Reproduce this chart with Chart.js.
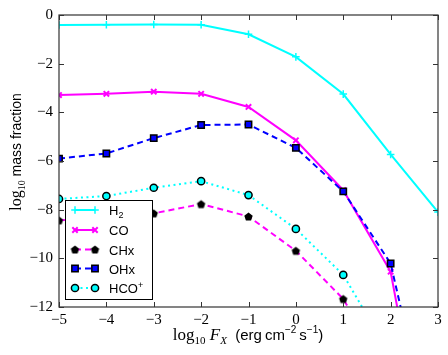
<!DOCTYPE html>
<html>
<head>
<meta charset="utf-8">
<script src="https://cdn.jsdelivr.net/npm/chart.js@4.4.1/dist/chart.umd.min.js"></script>
<style>
  html, body { margin: 0; padding: 0; background: #fff; }
  #wrap { width: 448px; height: 355px; position: relative; }
</style>
</head>
<body>
<div id="wrap"><canvas id="chart"></canvas></div>
<script>
const fluxLog = [-5, -4, -3, -2, -1, 0, 1, 2, 3];
const h2Values = [-0.41, -0.4, -0.39, -0.4, -0.79, -1.72, -3.25, -5.73, -8.1];
const coValues = [-3.29, -3.24, -3.15, -3.24, -3.78, -5.15, -7.2, -10.55, -21];
const chxValues = [-8.44, -8.3, -8.15, -7.77, -8.28, -9.69, -11.67, -15, null];
const ohxValues = [-5.9, -5.69, -5.06, -4.52, -4.5, -5.46, -7.25, -10.21, -18.7];
const hcoValues = [-7.56, -7.44, -7.1, -6.83, -7.4, -8.79, -10.68, -14, null];
const xTicks = [-5, -4, -3, -2, -1, 0, 1, 2, 3];
const yTicks = [-12, -10, -8, -6, -4, -2, 0];

const serif = '"Liberation Serif", "DejaVu Serif", serif';
const sans = '"Liberation Sans", "DejaVu Sans", sans-serif';

function toPoints(values) {
  return fluxLog.map((x, i) => ({ x, y: values[i] }));
}

function pentagonMarker() {
  const c = document.createElement("canvas");
  c.width = 11;
  c.height = 11;
  const ctx = c.getContext("2d");
  ctx.fillStyle = "#000";
  ctx.beginPath();
  for (let i = 0; i < 5; i++) {
    const a = -Math.PI / 2 + (i * 2 * Math.PI) / 5;
    const px = 5.5 + 4.4 * Math.cos(a);
    const py = 6 + 4.4 * Math.sin(a);
    if (i === 0) ctx.moveTo(px, py);
    else ctx.lineTo(px, py);
  }
  ctx.closePath();
  ctx.fill();
  return c;
}

const minus = (v) => String(v).replace("-", "\u2212");

const datasets = [
  {
    label: "H2",
    data: toPoints(h2Values),
    borderColor: "#00ffff",
    borderWidth: 2,
    pointStyle: "cross",
    pointRadius: 3.8,
    pointBorderColor: "#00ffff",
    pointBackgroundColor: "#00ffff",
    pointBorderWidth: 1.5,
    order: 5,
  },
  {
    label: "CO",
    data: toPoints(coValues),
    borderColor: "#ff00ff",
    borderWidth: 2,
    pointStyle: "crossRot",
    pointRadius: 3.8,
    pointBorderColor: "#ff00ff",
    pointBackgroundColor: "#ff00ff",
    pointBorderWidth: 2,
    order: 4,
  },
  {
    label: "CHx",
    data: toPoints(chxValues),
    borderColor: "#ff00ff",
    borderWidth: 2,
    borderDash: [6, 4],
    pointStyle: pentagonMarker(),
    pointRadius: 5,
    order: 3,
  },
  {
    label: "OHx",
    data: toPoints(ohxValues),
    borderColor: "#0000ff",
    borderWidth: 2,
    borderDash: [6, 4],
    pointStyle: "rect",
    pointRadius: 4.5,
    pointBorderColor: "#000",
    pointBackgroundColor: "#0000ff",
    pointBorderWidth: 1.5,
    order: 2,
  },
  {
    label: "HCO+",
    data: toPoints(hcoValues),
    borderColor: "#00ffff",
    borderWidth: 2,
    borderDash: [2, 3.5],
    pointStyle: "circle",
    pointRadius: 3.6,
    pointBorderColor: "#000",
    pointBackgroundColor: "#00ffff",
    pointBorderWidth: 1.5,
    order: 1,
  },
];

const legendNames = [
  [["H", ""], ["2", "sub"]],
  [["CO", ""]],
  [["CHx", ""]],
  [["OHx", ""]],
  [["HCO", ""], ["+", "sup"]],
];

function drawParts(ctx, parts, cx, baseline, startX) {
  let total = 0;
  parts.forEach(([t, f]) => { ctx.font = f; total += ctx.measureText(t).width; });
  let x = startX !== undefined ? startX : cx - total / 2;
  ctx.textAlign = "left";
  parts.forEach(([t, f, dy]) => {
    ctx.font = f;
    ctx.fillText(t, x, baseline + dy);
    x += ctx.measureText(t).width;
  });
}

// frame, inward ticks, axis titles and the legend box
const decorations = {
  id: "decorations",
  afterDraw(chart) {
    const { ctx, chartArea: a, scales } = chart;
    ctx.save();
    ctx.strokeStyle = "#333";
    ctx.lineWidth = 1.2;
    ctx.strokeRect(a.left, a.top, a.right - a.left, a.bottom - a.top);
    ctx.lineWidth = 1;
    ctx.beginPath();
    xTicks.forEach((t) => {
      const px = Math.round(scales.x.getPixelForValue(t)) + 0.5;
      ctx.moveTo(px, a.bottom); ctx.lineTo(px, a.bottom - 5);
      ctx.moveTo(px, a.top); ctx.lineTo(px, a.top + 5);
    });
    yTicks.forEach((t) => {
      const py = Math.round(scales.y.getPixelForValue(t)) + 0.5;
      ctx.moveTo(a.left, py); ctx.lineTo(a.left + 5, py);
      ctx.moveTo(a.right, py); ctx.lineTo(a.right - 5, py);
    });
    ctx.stroke();

    // x title
    ctx.fillStyle = "#000";
    ctx.textBaseline = "alphabetic";
    drawParts(ctx, [
      ["log", `17px ${serif}`, 0],
      ["10", `11px ${serif}`, 4],
      [" ", `17px ${serif}`, 0],
      ["F", `italic 17px ${serif}`, 0],
      ["X", `italic 11px ${serif}`, 4],
      ["  (erg", `15px ${sans}`, 0],
      ["\u2009cm", `15px ${sans}`, 0],
      ["\u22122", `10px ${sans}`, -7],
      ["\u2009s", `15px ${sans}`, 0],
      ["\u22121", `10px ${sans}`, -7],
      [")", `15px ${sans}`, 0],
    ], 248, 340);

    // y title
    ctx.save();
    ctx.translate(21, 152);
    ctx.rotate(-Math.PI / 2);
    drawParts(ctx, [
      ["log", `16px ${serif}`, 0],
      ["10", `10px ${serif}`, 4],
      [" mass fraction", `14px ${sans}`, 0],
    ], 0, 0);
    ctx.restore();

    // legend
    const box = { left: 65, top: 200, right: 152, bottom: 299 };
    ctx.fillStyle = "#fff";
    ctx.fillRect(box.left, box.top, box.right - box.left, box.bottom - box.top);
    ctx.strokeStyle = "#000";
    ctx.lineWidth = 1;
    ctx.strokeRect(box.left + 0.5, box.top + 0.5, box.right - box.left, box.bottom - box.top);
    const rows = [210, 230, 249.5, 268.5, 288];
    chart.data.datasets.forEach((ds, i) => {
      const y = rows[i];
      ctx.save();
      ctx.strokeStyle = ds.borderColor;
      ctx.lineWidth = ds.borderWidth;
      ctx.setLineDash(ds.borderDash || []);
      ctx.beginPath();
      ctx.moveTo(75, y);
      ctx.lineTo(95, y);
      ctx.stroke();
      ctx.restore();
      const opts = chart.getDatasetMeta(i).data[0].options;
      [75, 95].forEach((px) => {
        ctx.save();
        ctx.setLineDash([]);
        ctx.fillStyle = opts.backgroundColor;
        ctx.strokeStyle = opts.borderColor;
        ctx.lineWidth = opts.borderWidth;
        Chart.helpers.drawPoint(ctx, {
          pointStyle: opts.pointStyle,
          radius: opts.radius,
          borderWidth: opts.borderWidth,
          rotation: 0,
        }, px, y);
        ctx.restore();
      });
      ctx.fillStyle = "#000";
      const parts = legendNames[i].map(([text, kind]) => {
        if (kind === "sub") return [text, `9px ${sans}`, 3];
        if (kind === "sup") return [text, `9px ${sans}`, -5];
        return [text, `13px ${sans}`, 0];
      });
      drawParts(ctx, parts, null, y + 5, 109);
    });
    ctx.restore();
  },
};

new Chart(document.getElementById("chart"), {
  type: "line",
  data: { datasets },
  options: {
    responsive: true,
    maintainAspectRatio: false,
    animation: false,
    layout: { padding: { top: 14, right: 10, left: 0, bottom: 0 } },
    plugins: {
      legend: { display: false },
      tooltip: { enabled: false },
    },
    scales: {
      x: {
        type: "linear",
        min: -5,
        max: 3,
        afterFit: (scale) => { scale.height = 48; },
        afterBuildTicks: (scale) => { scale.ticks = xTicks.map((v) => ({ value: v })); },
        grid: { display: false, drawTicks: false },
        border: { display: false },
        ticks: {
          color: "#000",
          font: { family: serif, size: 15 },
          padding: 4,
          callback: (v) => minus(v),
        },
      },
      y: {
        type: "linear",
        min: -12,
        max: 0,
        afterFit: (scale) => { scale.width = 59; },
        afterBuildTicks: (scale) => { scale.ticks = yTicks.map((v) => ({ value: v })); },
        grid: { display: false, drawTicks: false },
        border: { display: false },
        ticks: {
          color: "#000",
          font: { family: serif, size: 15 },
          padding: 6,
          callback: (v) => minus(v),
        },
      },
    },
  },
  plugins: [decorations],
});
</script>
</body>
</html>
